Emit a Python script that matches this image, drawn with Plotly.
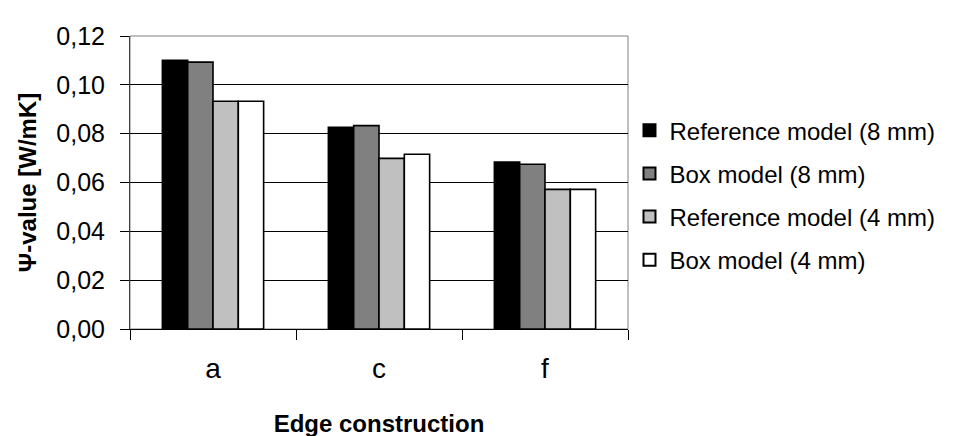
import plotly.graph_objects as go

categories = ["a", "c", "f"]
series_names = ["Reference model (8 mm)", "Box model (8 mm)",
                "Reference model (4 mm)", "Box model (4 mm)"]
ref_8mm = [0.1100, 0.0826, 0.0684]
box_8mm = [0.1093, 0.0833, 0.0675]
ref_4mm = [0.0933, 0.0699, 0.0572]
box_4mm = [0.0933, 0.0716, 0.0572]
y_ticks = [0.00, 0.02, 0.04, 0.06, 0.08, 0.10, 0.12]
y_tick_labels = ["0,00", "0,02", "0,04", "0,06", "0,08", "0,10", "0,12"]

colors = ["#000000", "#808080", "#c0c0c0", "#ffffff"]
values = [ref_8mm, box_8mm, ref_4mm, box_4mm]

fig = go.Figure()
for i, (name, vals, col) in enumerate(zip(series_names, values, colors)):
    fig.add_trace(go.Bar(
        x=categories, y=vals, name=name, legendgroup=f"g{i}",
        marker=dict(color=col, line=dict(color="#000000", width=1.6)),
    ))

font_family = "Liberation Sans, Arial, sans-serif"
fig.update_layout(
    width=958, height=436,
    margin=dict(l=122, r=338, t=28, b=115, autoexpand=False),
    paper_bgcolor="white", plot_bgcolor="white",
    barmode="group", bargap=0.39, bargroupgap=0,
    font=dict(family=font_family, size=24, color="black"),
    showlegend=True,
    legend=dict(
        x=1.003, y=0.457, xanchor="left", yanchor="middle",
        font=dict(size=24, family=font_family),
        tracegroupgap=9, itemsizing="constant",
        bgcolor="rgba(0,0,0,0)",
    ),
    xaxis=dict(
        showline=True, linecolor="#000000", linewidth=1,
        ticks="outside", tickson="boundaries", ticklen=10,
        tickcolor="#000000", tickfont=dict(size=28, family=font_family),
        ticklabelstandoff=14,
        showgrid=False,
        title=dict(text="<b>Edge construction</b>", font=dict(size=24, family=font_family), standoff=32),
    ),
    yaxis=dict(
        range=[0, 0.12], tickvals=y_ticks, ticktext=y_tick_labels,
        showline=True, linecolor="#404040", linewidth=1,
        ticks="outside", ticklen=9, tickcolor="#000000",
        ticklabelstandoff=10,
        showgrid=True, gridcolor="#000000", gridwidth=1,
        tickfont=dict(size=25, family=font_family),
        zeroline=False,
        title=dict(text="<b>Ψ-value [W/mK]</b>", font=dict(size=24, family=font_family), standoff=12),
    ),
)
fig.add_shape(type="rect", xref="paper", yref="paper", x0=0, y0=0, x1=1, y1=1,
              line=dict(color="#808080", width=1), layer="below")

fig.write_html("out.html")
